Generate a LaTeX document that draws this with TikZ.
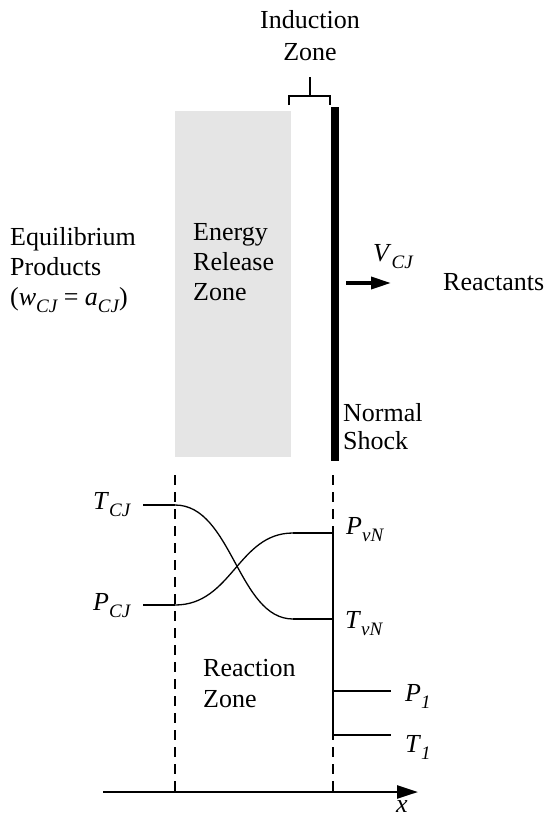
\documentclass[tikz,border=0pt]{standalone}
\usepackage{fontspec}
\setmainfont{Liberation Serif}
\usetikzlibrary{arrows.meta}
\newcommand\sbs[1]{\raisebox{-7pt}{\fontsize{19}{19}\selectfont\itshape #1}}
\definecolor{zonegray}{HTML}{E5E5E5}
\begin{document}
\begin{tikzpicture}[x=1pt,y=-1pt,
  every node/.style={inner sep=0pt, font=\fontsize{26}{30}\selectfont},
  txt/.style={anchor=base west},
  ctxt/.style={anchor=base},
  wire/.style={line width=2pt},
  curve/.style={line width=1.3pt},
  dash line/.style={line width=2.2pt, dash pattern=on 10pt off 7pt}]
\useasboundingbox (0,0) rectangle (548,820);

% upper part
\fill[zonegray] (175,111) rectangle (291,457);
\fill[black] (331,107) rectangle (339,461);
\node[ctxt] (ind1) at (310,28) {Induction};
\node[ctxt] (ind2) at (310,60) {Zone};
\coordinate (bl) at (289,105);
\coordinate (br) at (330,105);
\coordinate (stem) at (310,77);
\draw[wire] (bl) |- (310,96) -| (br);
\draw[wire] (stem) -- (310,96);

\node[txt] (eq1) at (10,245) {Equilibrium};
\node[txt] (eq2) at (10,275) {Products};
\node[txt] (eq3) at (10,305) {(\textit{w}\sbs{CJ} = \textit{a}\sbs{CJ})};

\node[txt] (en1) at (193,240) {Energy};
\node[txt] (en2) at (193,270) {Release};
\node[txt] (en3) at (193,300) {Zone};

\node[txt] (vcj) at (373,261) {\textit{V}\sbs{CJ}};
\coordinate (va) at (346,283);
\coordinate (vb) at (391,283);
\draw[line width=3.5pt, -{Triangle[length=20pt,width=12pt]}] (va) -- (vb);
\node[txt] (reac) at (443,290) {Reactants};

\node[txt] (ns1) at (343,421) {Normal};
\node[txt] (ns2) at (343,449) {Shock};

% lower part
\coordinate (d1t) at (175,475);
\coordinate (d1b) at (175,792);
\coordinate (d2t) at (333,475);
\coordinate (d2b) at (333,792);
\draw[dash line] (d1t) -- (d1b);
\draw[dash line] (d2t) -- (d2b);

\node[txt] (tcj) at (93,509) {\textit{T}\sbs{CJ}};
\node[txt] (pcj) at (93,610) {\textit{P}\sbs{CJ}};
\coordinate (tcjl) at (143,505);
\coordinate (tcjr) at (175,505);
\coordinate (pcjl) at (143,605);
\coordinate (pcjr) at (175,605);
\draw[wire] (tcjl) -- (tcjr);
\draw[wire] (pcjl) -- (pcjr);

\coordinate (tvnl) at (293,619);
\coordinate (tvnr) at (333,619);
\coordinate (pvnl) at (293,533);
\coordinate (pvnr) at (333,533);
\draw[curve] (tcjr) .. controls (232,505) and (238,619) .. (tvnl);
\draw[curve] (pcjr) .. controls (232,605) and (238,533) .. (pvnl);
\draw[wire] (tvnl) -- (tvnr);
\draw[wire] (pvnl) -- (pvnr);

\coordinate (p1l) at (333,691);
\coordinate (p1r) at (391,691);
\coordinate (t1l) at (333,735);
\coordinate (t1r) at (391,735);
\draw[wire] (pvnr) -- (t1l);
\draw[wire] (p1l) -- (p1r);
\draw[wire] (t1l) -- (t1r);

\node[txt] (pvn) at (346,534) {\textit{P}\sbs{vN}};
\node[txt] (tvn) at (345,628) {\textit{T}\sbs{vN}};
\node[txt] (p1) at (405,701) {\textit{P}\sbs{1}};
\node[txt] (t1) at (405,752) {\textit{T}\sbs{1}};

\node[txt] (rz1) at (203,676) {Reaction};
\node[txt] (rz2) at (203,707) {Zone};

\coordinate (ax0) at (103,792);
\coordinate (ax1) at (418,792);
\draw[line width=2.5pt, -{Triangle[length=21pt,width=13pt]}] (ax0) -- (ax1);
\node[txt] (xl) at (396,812) {\textit{x}};
\end{tikzpicture}
\end{document}
